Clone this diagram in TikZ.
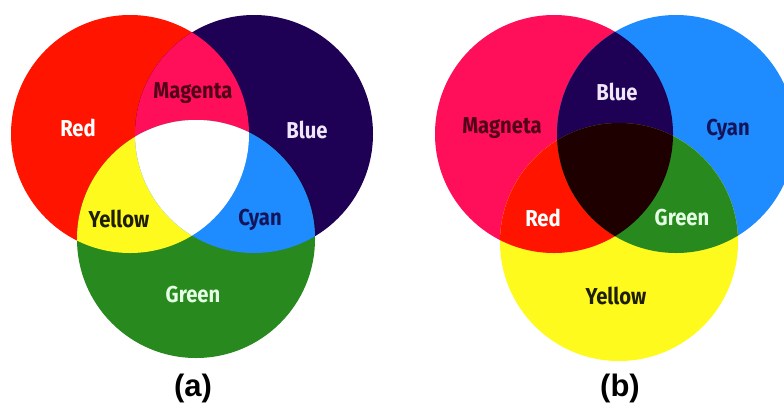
\documentclass[tikz,border=0pt]{standalone}
\usepackage{fontspec}
\newfontfamily\labfont[FakeStretch=0.88]{Fira Sans}
\newfontfamily\capfont{Liberation Sans}
\definecolor{cRed}{RGB}{255,20,0}
\definecolor{cBlue}{RGB}{30,0,85}
\definecolor{cMag}{RGB}{255,15,90}
\definecolor{cGreen}{RGB}{40,138,30}
\definecolor{cYel}{RGB}{255,250,30}
\definecolor{cCyan}{RGB}{30,140,255}
\definecolor{cBlack}{RGB}{30,0,0}
\definecolor{tDark}{RGB}{80,0,25}
\definecolor{tNavy}{RGB}{20,20,90}
\definecolor{tLight}{RGB}{240,230,250}
\definecolor{tOlive}{RGB}{30,30,0}
\tikzset{
  lab/.style={font=\labfont\bfseries\fontsize{23}{23}\selectfont, inner sep=0pt, anchor=center},
  capt/.style={font=\capfont\bfseries\fontsize{31}{31}\selectfont, inner sep=0pt, anchor=center}
}
\begin{document}
\begin{tikzpicture}[x=1pt,y=-1pt]
\useasboundingbox[fill=white] (0,0) rectangle (784,408);
% ---------- (a) additive ----------
\def\R{119pt}
\coordinate (ra) at (130,134);
\coordinate (ba) at (254,134);
\coordinate (ga) at (196,239);
\fill[cRed] (ra) circle[radius=\R];
\fill[cBlue] (ba) circle[radius=\R];
\fill[cGreen] (ga) circle[radius=\R];
\begin{scope}
  \clip (ra) circle[radius=\R];
  \fill[cMag] (ba) circle[radius=\R];
  \fill[cYel] (ga) circle[radius=\R];
\end{scope}
\begin{scope}
  \clip (ba) circle[radius=\R];
  \fill[cCyan] (ga) circle[radius=\R];
\end{scope}
\begin{scope}
  \clip (ra) circle[radius=\R];
  \clip (ba) circle[radius=\R];
  \fill[white] (ga) circle[radius=\R];
\end{scope}
\node[lab, text=white] (aRed) at (78,128) {Red};
\node[lab, text=tDark] (aMag) at (193,93) {Magenta};
\node[lab, text=tLight] (aBlue) at (307,130) {Blue};
\node[lab, text=tOlive] (aYel) at (119,219) {Yellow};
\node[lab, text=tNavy] (aCyan) at (260,220) {Cyan};
\node[lab, text=white!90!green] (aGreen) at (193,295) {Green};
\node[capt] (capA) at (193,388) {(a)};
% ---------- (b) subtractive ----------
\coordinate (mb) at (554,134);
\coordinate (cb) at (676,134);
\coordinate (yb) at (619,242);
\fill[cMag] (mb) circle[radius=\R];
\fill[cCyan] (cb) circle[radius=\R];
\fill[cYel] (yb) circle[radius=\R];
\begin{scope}
  \clip (mb) circle[radius=\R];
  \fill[cBlue] (cb) circle[radius=\R];
  \fill[cRed] (yb) circle[radius=\R];
\end{scope}
\begin{scope}
  \clip (cb) circle[radius=\R];
  \fill[cGreen] (yb) circle[radius=\R];
\end{scope}
\begin{scope}
  \clip (mb) circle[radius=\R];
  \clip (cb) circle[radius=\R];
  \fill[cBlack] (yb) circle[radius=\R];
\end{scope}
\node[lab, text=tLight] (bBlue) at (617,92) {Blue};
\node[lab, text=tDark] (bMag) at (502,128) {Magneta};
\node[lab, text=tNavy] (bCyan) at (728,130) {Cyan};
\node[lab, text=white] (bRed) at (543,218) {Red};
\node[lab, text=white!90!green] (bGreen) at (682,218) {Green};
\node[lab, text=tOlive] (bYel) at (616,296) {Yellow};
\node[capt] (capB) at (620,388) {(b)};
\end{tikzpicture}
\end{document}
